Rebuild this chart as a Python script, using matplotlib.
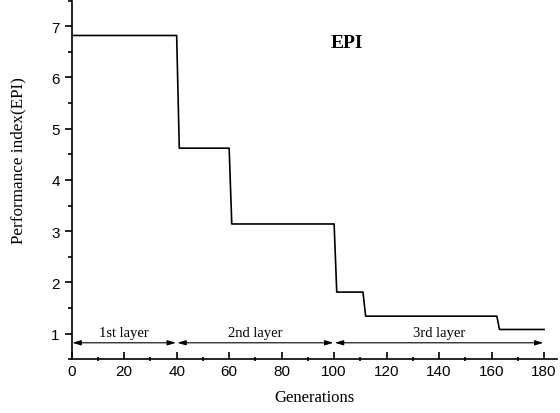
import matplotlib
matplotlib.use("Agg")
import matplotlib.pyplot as plt
from matplotlib.ticker import MultipleLocator

# datos
generaciones = [0, 40, 41, 60, 61, 100, 101, 111, 112, 162, 163, 180]
epi = [6.82, 6.82, 4.62, 4.62, 3.14, 3.14, 1.81, 1.81, 1.34, 1.34, 1.08, 1.08]
capas = ["1st layer", "2nd layer", "3rd layer"]
limites_capas = [0, 40, 100, 180]

serif = "Liberation Serif"
sans = "Liberation Sans"

fig = plt.figure(figsize=(5.6, 4.14), dpi=100)
ax = fig.add_axes([0.128, 0.130, 0.867, 0.866])

ax.plot(generaciones, epi, color="black", lw=1.2)

for i, nombre in enumerate(capas):
    a, b = limites_capas[i], limites_capas[i + 1]
    ax.annotate("", xy=(b, 0.82), xytext=(a, 0.82),
                arrowprops=dict(arrowstyle="<|-|>,head_length=0.5,head_width=0.15",
                                color="black", lw=0.8, shrinkA=0.5, shrinkB=0.5))
    ax.text((a + b) / 2, 0.9, nombre, ha="center", va="bottom",
            fontsize=10.5, family=serif)

ax.text(105, 6.69, "EPI", ha="center", va="center", fontsize=14,
        fontweight="bold", family=serif)

ax.set_xlim(0, 185)
ax.set_ylim(0.5, 7.5)
ax.xaxis.set_major_locator(MultipleLocator(20))
ax.xaxis.set_minor_locator(MultipleLocator(10))
ax.yaxis.set_major_locator(MultipleLocator(1))
ax.yaxis.set_minor_locator(MultipleLocator(0.5))

ax.spines["top"].set_visible(False)
ax.spines["right"].set_visible(False)
ax.spines["left"].set_linewidth(1.2)
ax.spines["bottom"].set_linewidth(1.2)

ax.tick_params(axis="x", which="major", direction="in", length=5, width=1.2)
ax.tick_params(axis="x", which="minor", direction="inout", length=3, width=1.2)
ax.tick_params(axis="y", which="major", direction="out", length=5, width=1.2)
ax.tick_params(axis="y", which="minor", direction="out", length=3, width=1.2)
for lbl in ax.get_xticklabels() + ax.get_yticklabels():
    lbl.set_family(sans)
    lbl.set_fontsize(11)

ax.set_xlabel("Generations", family=serif, fontsize=12, labelpad=8)
ax.set_ylabel("Performance index(EPI)", family=serif, fontsize=12.3)
ax.yaxis.set_label_coords(-0.094, 0.558)

fig.savefig("out.png", dpi=100)
